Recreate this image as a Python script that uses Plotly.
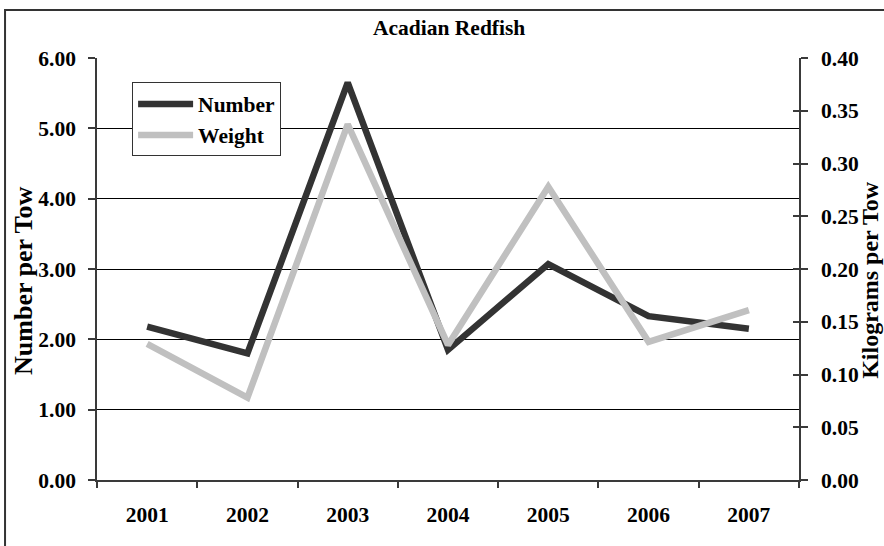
import plotly.graph_objects as go

years = ["2001", "2002", "2003", "2004", "2005", "2006", "2007"]
number_per_tow = [2.18, 1.80, 5.65, 1.85, 3.07, 2.33, 2.15]
kg_per_tow = [0.129, 0.078, 0.337, 0.128, 0.278, 0.131, 0.161]

left_ticks = [0, 1, 2, 3, 4, 5, 6]
right_ticks = [0, 0.05, 0.10, 0.15, 0.20, 0.25, 0.30, 0.35, 0.40]

FONT = "Liberation Serif"
TICK_SIZE = 21.5
AX_COLOR = "#3a3a3a"

fig = go.Figure()
fig.add_trace(go.Scatter(
    x=years, y=number_per_tow, name="Number", mode="lines",
    line=dict(color="#333333", width=6.5), yaxis="y",
))
fig.add_trace(go.Scatter(
    x=years, y=kg_per_tow, name="Weight", mode="lines",
    line=dict(color="#c0c0c0", width=6.5), yaxis="y2",
))
# helper axis for inward ticks on right axis
fig.add_trace(go.Scatter(
    x=years, y=kg_per_tow, mode="lines", showlegend=False, hoverinfo="skip",
    line=dict(color="rgba(0,0,0,0)", width=0), yaxis="y3",
))

tickfont = dict(family=FONT, size=TICK_SIZE, color="black", weight="bold")

fig.update_layout(
    width=884, height=546,
    margin=dict(l=97, r=85, t=58, b=66),
    paper_bgcolor="white", plot_bgcolor="white",
    font=dict(family=FONT, color="black"),
    showlegend=True,
    legend=dict(
        x=0.05, y=0.942, xanchor="left", yanchor="top",
        bgcolor="white", bordercolor="#333333", borderwidth=1,
        font=dict(family=FONT, size=TICK_SIZE, color="black", weight="bold"),
        itemwidth=55, tracegroupgap=0,
    ),
    xaxis=dict(
        type="category", tickson="boundaries", ticks="outside", ticklen=6,
        tickcolor=AX_COLOR, tickwidth=1.5,
        showline=True, linecolor=AX_COLOR, linewidth=1.5,
        showgrid=False, zeroline=False, tickfont=tickfont,
        ticklabelstandoff=14, range=[-0.5, 6.5],
    ),
    yaxis=dict(
        range=[0, 6], tickvals=left_ticks, tickformat=".2f",
        ticks="outside", ticklen=7, tickcolor=AX_COLOR, tickwidth=1.5,
        showline=True, linecolor=AX_COLOR, linewidth=1.5,
        showgrid=True, gridcolor="black", gridwidth=1, zeroline=False,
        tickfont=tickfont, ticklabelstandoff=8,
    ),
    yaxis2=dict(
        range=[0, 0.4], tickvals=right_ticks, tickformat=".2f",
        overlaying="y", side="right", anchor="x",
        ticks="outside", ticklen=7, tickcolor=AX_COLOR, tickwidth=1.5,
        showline=True, linecolor=AX_COLOR, linewidth=1.5,
        showgrid=False, zeroline=False, tickfont=tickfont, ticklabelstandoff=9,
    ),
    yaxis3=dict(
        range=[0, 0.4], tickvals=right_ticks,
        overlaying="y", side="right", anchor="x",
        ticks="inside", ticklen=6, tickcolor=AX_COLOR, tickwidth=1.5,
        showline=False, showgrid=False, zeroline=False, showticklabels=False,
    ),
)

# Chart title and axis titles
fig.add_annotation(
    text="Acadian Redfish", xref="paper", yref="paper",
    x=0.502, y=1.07, xanchor="center", yanchor="middle", showarrow=False,
    font=dict(family=FONT, size=21.5, color="black", weight="bold"),
)
fig.add_annotation(
    text="Number per Tow", xref="paper", yref="paper",
    x=-0.104, y=0.474, xanchor="center", yanchor="middle", showarrow=False,
    textangle=-90,
    font=dict(family=FONT, size=26, color="black", weight="bold"),
)
fig.add_annotation(
    text="Kilograms per Tow", xref="paper", yref="paper",
    x=1.101, y=0.474, xanchor="center", yanchor="middle", showarrow=False,
    textangle=-90,
    font=dict(family=FONT, size=24, color="black", weight="bold"),
)

# outer chart border (extends beyond the right/bottom edges)
fig.add_shape(
    type="rect", xref="paper", yref="paper",
    x0=-0.131, x1=1.14, y0=-0.2, y1=1.1135,
    line=dict(color="#333333", width=2), fillcolor="rgba(0,0,0,0)", layer="below",
)

fig.write_html(
    "out.html",
    config={"displayModeBar": False},
    post_script="document.body.style.margin='0';document.body.style.padding='0';document.body.style.overflow='hidden';",
)
